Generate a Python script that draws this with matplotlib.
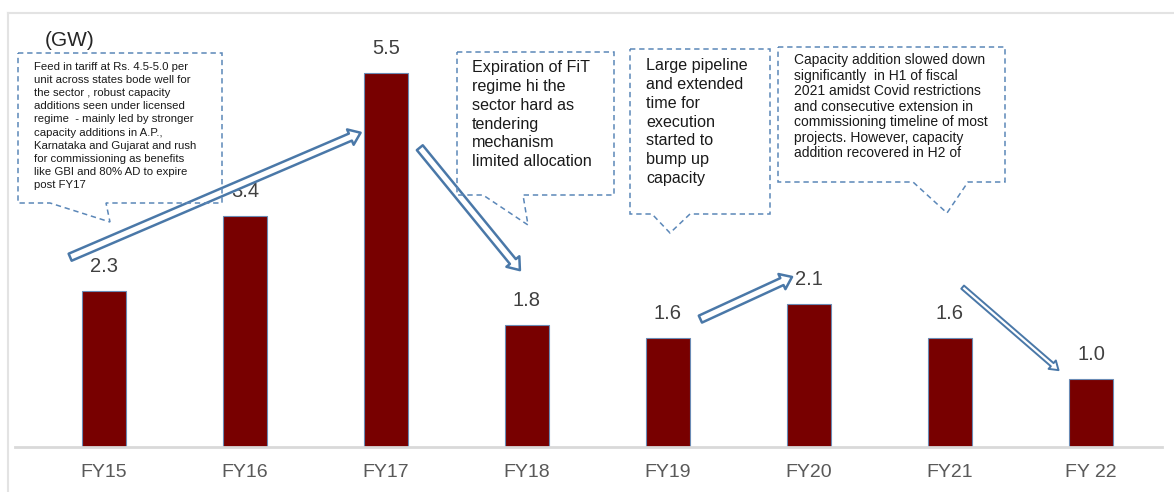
import matplotlib
matplotlib.use("Agg")
import matplotlib.pyplot as plt
from matplotlib.patches import FancyArrowPatch, Polygon
from matplotlib.lines import Line2D

plt.rcParams['font.family'] = ['Liberation Sans', 'DejaVu Sans']

categories = ["FY15", "FY16", "FY17", "FY18", "FY19", "FY20", "FY21", "FY 22"]
values = [2.3, 3.4, 5.5, 1.8, 1.6, 2.1, 1.6, 1.0]
labels = ["2.3", "3.4", "5.5", "1.8", "1.6", "2.1", "1.6", "1.0"]
unit_label = "(GW)"

note1 = ("Feed in tariff at Rs. 4.5-5.0 per\nunit across states bode well for\n"
         "the sector , robust capacity\nadditions seen under licensed\n"
         "regime  - mainly led by stronger\ncapacity additions in A.P.,\n"
         "Karnataka and Gujarat and rush\nfor commissioning as benefits\n"
         "like GBI and 80% AD to expire\npost FY17")
note2 = ("Expiration of FiT\nregime hi the\nsector hard as\ntendering\n"
         "mechanism\nlimited allocation")
note3 = ("Large pipeline\nand extended\ntime for\nexecution\nstarted to\n"
         "bump up\ncapacity")
note4 = ("Capacity addition slowed down\nsignificantly  in H1 of fiscal\n"
         "2021 amidst Covid restrictions\nand consecutive extension in\n"
         "commissioning timeline of most\nprojects. However, capacity\n"
         "addition recovered in H2 of")

W, H = 1174, 492
fig = plt.figure(figsize=(W / 100, H / 100), dpi=100)


def fx(x):
    return x / W


def fy(y):
    return 1 - y / H


# outer light frame
fig.add_artist(Line2D([fx(8), 1], [fy(13), fy(13)], color='#e3e3e3', lw=1.5))
fig.add_artist(Line2D([fx(8), fx(8)], [fy(13), 0], color='#e3e3e3', lw=1.5))

ax = fig.add_axes([fx(15), fy(447), fx(1162) - fx(15), fy(13) - fy(447)])
x = list(range(len(categories)))
ax.bar(x, values, width=0.31, color='#780000', edgecolor='#6a8bb5', linewidth=0.8, zorder=2)
ax.set_xlim(-0.631, 7.504)
ax.set_ylim(0, 6.38)
for s in ['top', 'right', 'left']:
    ax.spines[s].set_visible(False)
ax.spines['bottom'].set_color('#d9d9d9')
ax.spines['bottom'].set_linewidth(2)
ax.set_yticks([])
ax.set_xticks(x)
ax.set_xticklabels(categories, fontsize=14, color='#595959')
ax.tick_params(axis='x', length=0, pad=12)

for xi, v, lab in zip(x, values, labels):
    ax.annotate(lab, (xi, v), xytext=(0, 17.5), textcoords='offset points',
                ha='center', va='center', fontsize=14.5, color='#404040', zorder=5)

fig.text(fx(70), fy(40), unit_label, fontsize=15, color='#262626', ha='center', va='center')

# dashed callout boxes (figure pixels from the top-left)
box_color = '#5b87b8'


def callout(x0, y0, x1, y1, bl, tip, br, text, tx, ty, fs, ls):
    pts = [(x0, y0), (x1, y0), (x1, y1), (br, y1), tip, (bl, y1), (x0, y1)]
    poly = Polygon([(fx(px), fy(py)) for px, py in pts], closed=True,
                   transform=fig.transFigure, fc='none', ec=box_color, lw=1.1,
                   linestyle=(0, (3.5, 2.5)), zorder=1)
    fig.add_artist(poly)
    fig.text(fx(tx), fy(ty), text, fontsize=fs, linespacing=ls, color='#1a1a1a',
             ha='left', va='top', zorder=1)


callout(18, 53, 222, 203, 50, (110, 222), 106, note1, 34, 62, 8.2, 1.39)
callout(457, 52, 614, 195, 483, (528, 225), 523, note2, 472, 60, 11.6, 1.32)
callout(630, 49, 770, 214, 652, (670, 233), 690, note3, 646, 58, 11.6, 1.32)
callout(778, 47, 1005, 182, 913, (947, 213), 968, note4, 794, 53, 10, 1.14)

# hollow block arrows (data coordinates: category index, GW)
arrow_color = '#4a78a8'
arrows = [
    ((-0.24, 2.79), (1.82, 4.62), "simple,head_length=8,head_width=12,tail_width=5.5", 1.8),
    ((2.24, 4.40), (2.95, 2.60), "simple,head_length=8,head_width=12,tail_width=5.5", 1.8),
    ((4.23, 1.88), (4.88, 2.50), "simple,head_length=8,head_width=12,tail_width=5.5", 1.8),
    ((6.09, 2.35), (6.77, 1.13), "simple,head_length=6,head_width=8,tail_width=3", 1.4),
]
for a, b, st, lw in arrows:
    p = FancyArrowPatch(a, b, arrowstyle=st, mutation_scale=1, shrinkA=0, shrinkB=0,
                        fc='white', ec=arrow_color, lw=lw, zorder=6, transform=ax.transData)
    ax.add_patch(p)

fig.savefig("out.png", dpi=100)
